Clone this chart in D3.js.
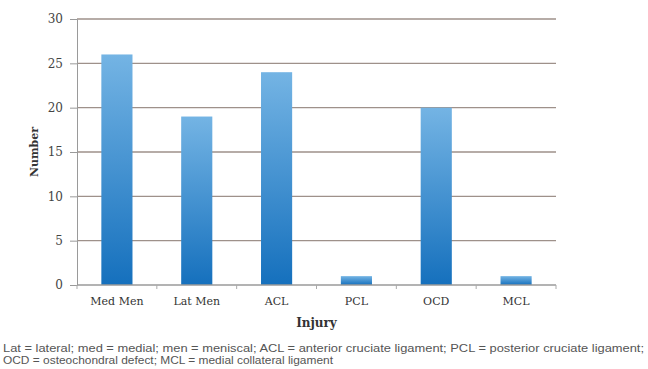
<!DOCTYPE html>
<html><head><meta charset="utf-8">
<script src="https://cdn.jsdelivr.net/npm/d3@7"></script>
<style>body{margin:0;background:#fff}svg{display:block}</style>
</head><body>
<svg id="c" width="648" height="369"></svg>
<script>
const categories = ["Med Men","Lat Men","ACL","PCL","OCD","MCL"];
const values = [26,19,24,1,20,1];
const yTicks = [0,5,10,15,20,25,30];
const yTitle = "Number";
const xTitle = "Injury";
const captionLines = [
 "Lat = lateral; med = medial; men = meniscal; ACL = anterior cruciate ligament; PCL = posterior cruciate ligament;",
 "OCD = osteochondral defect; MCL = medial collateral ligament"
];

const svg = d3.select("#c");
const m = {l:77, r:92, t:19, b:84};
const W = 648, H = 369;
const x = d3.scaleBand().domain(categories).range([m.l, W-m.r]).paddingInner(0.61).paddingOuter(0.305);
const y = d3.scaleLinear().domain([0,30]).range([H-m.b, m.t]);

const defs = svg.append("defs");
const g = defs.append("linearGradient").attr("id","bg").attr("x1",0).attr("y1",0).attr("x2",0).attr("y2",1);
g.append("stop").attr("offset","0%").attr("stop-color","#74b4e4");
g.append("stop").attr("offset","100%").attr("stop-color","#1570bd");

const serif = "'DejaVu Serif', 'Liberation Serif', serif";

// gridlines
svg.append("g").selectAll("line").data(yTicks.filter(d=>d>0)).join("line")
  .attr("x1",m.l).attr("x2",W-m.r).attr("y1",d=>y(d)).attr("y2",d=>y(d))
  .attr("stroke","#9e918a").attr("stroke-width",1.4);

// bars
svg.append("g").selectAll("rect").data(values).join("rect")
  .attr("x",(d,i)=>x(categories[i])).attr("width",x.bandwidth())
  .attr("y",d=>y(d)).attr("height",d=>y(0)-y(d)).attr("fill","url(#bg)");

// y axis
const ya = svg.append("g").attr("transform",`translate(${m.l},0)`)
  .call(d3.axisLeft(y).tickValues(yTicks).tickSize(7).tickPadding(7));
ya.select(".domain").attr("stroke","#9a9a9a");
ya.selectAll(".tick line").attr("stroke","#9a9a9a");
ya.selectAll("text").attr("font-family",serif).attr("font-size",12).attr("fill","#444");

// x axis
const step = x.step();
const xa = svg.append("g").attr("transform",`translate(0,${y(0)})`);
xa.append("line").attr("x1",m.l).attr("x2",W-m.r).attr("stroke","#9a9a9a").attr("stroke-width",1.3);
xa.selectAll("line.t").data(d3.range(categories.length+1)).join("line").attr("class","t")
  .attr("x1",i=>m.l+i*step).attr("x2",i=>m.l+i*step).attr("y1",0).attr("y2",4).attr("stroke","#aaa");
xa.selectAll("text").data(categories).join("text")
  .attr("x",d=>x(d)+x.bandwidth()/2).attr("y",20)
  .attr("text-anchor","middle").attr("font-family",serif).attr("font-size",11).attr("fill","#333")
  .text(d=>d);

// titles
svg.append("text").attr("transform",`translate(38,${(y(0)+y(30))/2}) rotate(-90)`)
  .attr("text-anchor","middle").attr("font-family",serif).attr("font-weight","bold")
  .attr("font-size",11).attr("fill","#333").text(yTitle);
svg.append("text").attr("x",(m.l+W-m.r)/2).attr("y",327)
  .attr("text-anchor","middle").attr("font-family",serif).attr("font-weight","bold")
  .attr("font-size",12).attr("fill","#333").text(xTitle);

// caption
svg.append("g").selectAll("text").data(captionLines).join("text")
  .attr("x",3).attr("y",(d,i)=>352+i*12)
  .attr("font-family","'Liberation Sans', Arial, sans-serif").attr("font-size",10)
  .attr("fill","#555")
  .attr("textLength",(d,i)=>i===0?641:330).attr("lengthAdjust","spacingAndGlyphs")
  .text(d=>d);
</script>
</body></html>
